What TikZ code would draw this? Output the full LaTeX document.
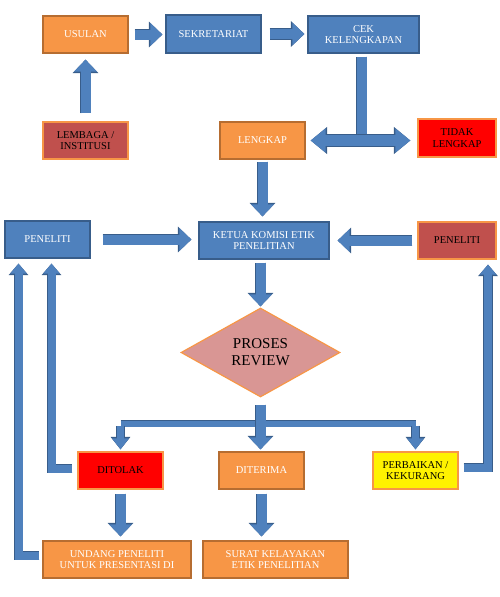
\documentclass[tikz,border=0pt]{standalone}
\usepackage{fontspec}
\setmainfont{Liberation Serif}
\usetikzlibrary{arrows.meta,shapes.geometric}
\definecolor{boxorange}{HTML}{F79646}
\definecolor{edgeorange}{HTML}{B66D31}
\definecolor{boxblue}{HTML}{4F81BD}
\definecolor{edgeblue}{HTML}{385D8A}
\definecolor{boxbrown}{HTML}{C0504D}
\definecolor{boxpink}{HTML}{D99694}
\begin{document}
\begin{tikzpicture}[x=1pt, y=-1pt,
  every node/.style={minimum width=85pt, minimum height=37pt, inner sep=1pt, align=center, line width=1.2pt, font=\fontsize{10.5}{11.5}\selectfont},
  orangebox/.style={fill=boxorange, draw=edgeorange, text=white},
  bluebox/.style={fill=boxblue, draw=edgeblue, text=white},
  brownbox/.style={fill=boxbrown, draw=boxorange, text=black},
  redbox/.style={fill=red, draw=boxorange, text=black},
  yellowbox/.style={fill=yellow, draw=boxorange, text=black},
  bigarrow/.style={draw=boxblue, line width=10pt, -{Triangle[width=22pt,length=12pt]},
    preaction={draw=edgeblue, line width=11.6pt, -{Triangle[width=25pt,length=13.5pt]}}},
  bigboth/.style={draw=boxblue, line width=11pt, {Triangle[width=23pt,length=15pt]}-{Triangle[width=23pt,length=15pt]},
    preaction={draw=edgeblue, line width=12.6pt, {Triangle[width=26pt,length=16.5pt]}-{Triangle[width=26pt,length=16.5pt]}}},
  bigshaft/.style={draw=boxblue, line width=10pt, preaction={draw=edgeblue, line width=11.6pt}},
  smallarrow/.style={draw=boxblue, line width=7pt, -{Triangle[width=16pt,length=11pt]},
    preaction={draw=edgeblue, line width=8.6pt, -{Triangle[width=19pt,length=12.5pt]}}},
  smallshaft/.style={draw=boxblue, line width=6pt, preaction={draw=edgeblue, line width=7.6pt}},
  elbowarrow/.style={draw=boxblue, line width=8pt, line join=miter, -{Triangle[width=16pt,length=10pt]},
    preaction={draw=edgeblue, line width=9.6pt, line join=miter, -{Triangle[width=19pt,length=11.5pt]}}}]
\useasboundingbox (0,0) rectangle (500,597);

\node[orangebox] (usulan) at (85.5,34.5) {USULAN};
\node[bluebox, minimum width=95pt, minimum height=38pt] (sekretariat) at (213.5,34) {SEKRETARIAT};
\node[bluebox, minimum width=111pt] (cek) at (363.5,34.5) {CEK\\KELENGKAPAN};
\node[brownbox] (lembaga) at (85.5,140.5) {LEMBAGA /\\INSTITUSI};
\node[orangebox] (lengkap) at (262.5,140.5) {LENGKAP};
\node[redbox, minimum width=78pt, minimum height=38pt] (tidak) at (457,138) {TIDAK\\LENGKAP};

\node[bluebox] (peneliti) at (47.5,239.5) {PENELITI};
\node[bluebox, minimum width=130pt] (ketua) at (264,240.5) {KETUA KOMISI ETIK\\PENELITIAN};
\node[brownbox, minimum width=78pt] (peneliti2) at (457,240.5) {PENELITI};
\node[diamond, fill=boxpink, draw=boxorange, minimum width=159pt, minimum height=89pt, inner sep=0pt,
  font=\fontsize{15}{17}\selectfont] (review) at (260.5,352.5) {PROSES\\REVIEW};

\node[redbox] (ditolak) at (120.5,470.5) {DITOLAK};
\node[orangebox] (diterima) at (261.5,470.5) {DITERIMA};
\node[yellowbox] (perbaikan) at (415.5,470.5) {PERBAIKAN /\\KEKURANG};
\node[orangebox, minimum width=148pt] (undang) at (117,559.5) {UNDANG PENELITI\\UNTUK PRESENTASI DI};
\node[orangebox, minimum width=145pt] (surat) at (275.5,559.5) {SURAT KELAYAKAN\\ETIK PENELITIAN};

\draw[bigarrow] ([xshift=6pt]usulan.east) -- ([xshift=-3pt]sekretariat.west |- usulan.east);
\draw[bigarrow] ([xshift=8pt]sekretariat.east) -- ([xshift=-3pt]cek.west |- sekretariat.east);
\draw[bigarrow] ([yshift=8pt]lembaga.north) -- ([yshift=-6pt]usulan.south);
\coordinate (split) at ([xshift=-2pt]cek.south |- lengkap.east);
\draw[bigshaft] ([xshift=-2pt,yshift=-3pt]cek.south) -- (split);
\draw[bigboth] ([xshift=5pt]lengkap.east) -- ([xshift=-7pt]tidak.west |- lengkap.east);
\draw[bigarrow] ([yshift=-2pt]lengkap.south) -- ([yshift=5pt]lengkap.south |- ketua.north);
\draw[bigarrow] ([xshift=12pt]peneliti.east) -- ([xshift=-7pt]ketua.west |- peneliti.east);
\draw[bigarrow] ([xshift=-5pt]peneliti2.west) -- ([xshift=8pt]ketua.east |- peneliti2.west);
\draw[bigarrow] ([yshift=-3pt]review.north |- ketua.south) -- ([yshift=1pt]review.north);

\coordinate (fork) at ([yshift=-26pt]review.south);
\coordinate (forkL) at (ditolak.north |- fork);
\coordinate (forkR) at (perbaikan.north |- fork);
\draw[smallshaft] (forkL) -- (forkR);
\draw[smallarrow] ([yshift=-2pt]forkL) -- ([yshift=2pt]ditolak.north);
\draw[smallarrow] ([yshift=-2pt]forkR) -- ([yshift=2pt]perbaikan.north);
\draw[bigarrow] ([yshift=-7pt]review.south) -- ([yshift=2pt]review.south |- diterima.north);
\draw[bigarrow] ([yshift=-4pt]ditolak.south) -- ([yshift=4pt]ditolak.south |- undang.north);
\draw[bigarrow] ([yshift=-4pt]diterima.south) -- ([yshift=4pt]diterima.south |- surat.north);

\draw[elbowarrow] ([xshift=-5pt,yshift=2pt]ditolak.west) -| ([xshift=4pt,yshift=-5pt]peneliti.south);
\draw[elbowarrow] ([xshift=-3pt,yshift=4pt]undang.west) -| ([xshift=-29pt,yshift=-5pt]peneliti.south);
\draw[elbowarrow] ([xshift=5pt,yshift=3pt]perbaikan.east) -| ([xshift=31pt,yshift=-5pt]peneliti2.south);
\end{tikzpicture}
\end{document}
